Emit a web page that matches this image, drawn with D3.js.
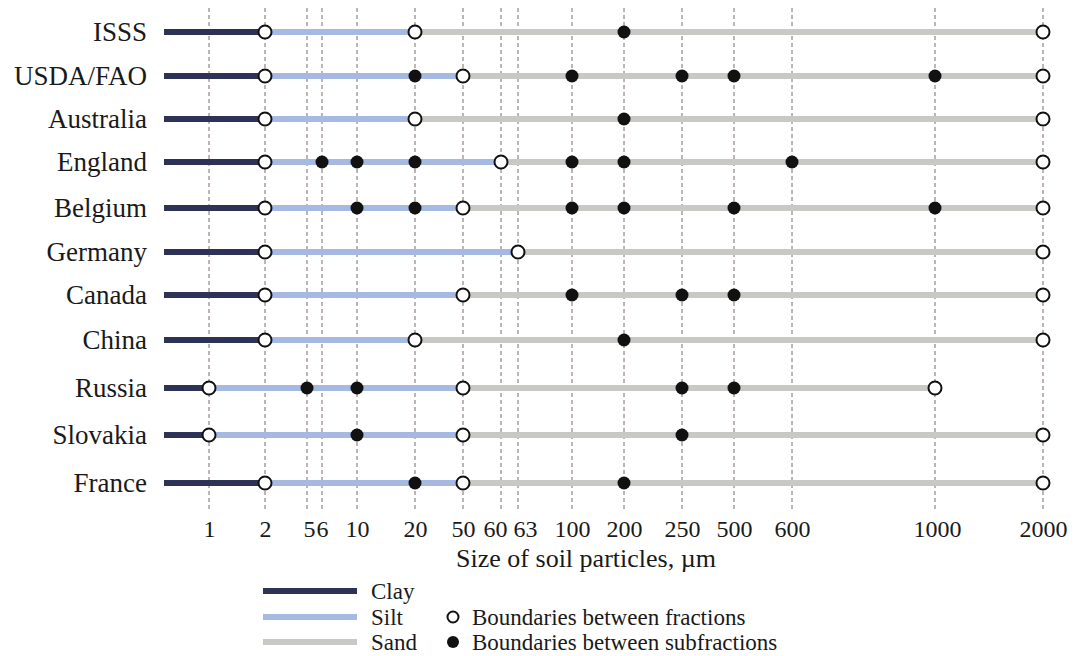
<!DOCTYPE html>
<html>
<head>
<meta charset="utf-8">
<script src="https://cdn.jsdelivr.net/npm/d3@7"></script>
<style>
  html, body { margin: 0; padding: 0; background: #fff; }
  svg { display: block; }
  text { font-family: "Liberation Serif", "DejaVu Serif", serif; fill: #1a1a1a; }
</style>
</head>
<body>
<svg id="chart" width="1079" height="656"></svg>
<script>
// ---- data ----
const systems = ["ISSS", "USDA/FAO", "Australia", "England", "Belgium", "Germany", "Canada", "China", "Russia", "Slovakia", "France"];
// upper limits of clay, silt, sand (µm)
const clayMax = [2, 2, 2, 2, 2, 2, 2, 2, 1, 1, 2];
const siltMax = [20, 50, 20, 60, 50, 63, 50, 20, 50, 50, 50];
const sandMax = [2000, 2000, 2000, 2000, 2000, 2000, 2000, 2000, 1000, 2000, 2000];
// boundaries between subfractions (µm)
const subBounds = [
  [200],
  [20, 100, 250, 500, 1000],
  [200],
  [6, 10, 20, 100, 200, 600],
  [10, 20, 100, 200, 500, 1000],
  [],
  [100, 250, 500],
  [200],
  [5, 10, 250, 500],
  [10, 250],
  [20, 200]
];
const tickValues = [1, 2, 5, 6, 10, 20, 50, 60, 63, 100, 200, 250, 500, 600, 1000, 2000];
const tickLabels = ["1", "2", "5", "6", "10", "20", "50", "60", "63", "100", "200", "250", "500", "600", "1000", "2000"];
const fractionNames = ["Clay", "Silt", "Sand"];
const markerNames = ["Boundaries between fractions", "Boundaries between subfractions"];
const axisTitle = "Size of soil particles, µm";

// ---- layout / style ----
const tickPixels = [209, 265, 307, 322, 357, 415, 463, 501, 518, 572, 624, 682, 734, 792, 935, 1043];
const rowPixels = [32, 76, 119, 162, 208, 252, 295, 340, 388, 435, 483];
const labelShift = { 5: 2, 60: -6, 63: 7, 1000: 2 };
const colors = { Clay: "#2d3256", Silt: "#a6b9e3", Sand: "#c8c8c4" };
const lineStart = 164;
const svg = d3.select("#chart");

const x = d3.scaleLinear().domain(tickValues).range(tickPixels);
const y = d3.scaleOrdinal().domain(systems).range(rowPixels);

// grid
const grid = svg.append("g");
grid.selectAll("line").data(tickValues).join("line")
  .attr("x1", d => x(d)).attr("x2", d => x(d))
  .attr("y1", 8).attr("y2", 512)
  .attr("stroke", "#7d6d6d").attr("stroke-width", 1)
  .attr("stroke-dasharray", "4,3");

// x axis labels
const xAxis = d3.axisBottom(x).tickValues(tickValues)
  .tickFormat((d, i) => tickLabels[i]).tickSize(0).tickPadding(0);
const ax = svg.append("g").attr("transform", "translate(0,537)").call(xAxis);
ax.select(".domain").remove();
ax.selectAll("text").attr("font-size", 24).attr("dy", 0).attr("y", 0)
  .attr("dx", d => labelShift[d] || 0)
  .style("font-family", '"Liberation Serif", serif').attr("fill", "#1a1a1a");

svg.append("text").attr("x", 586).attr("y", 567).attr("text-anchor", "middle")
  .attr("font-size", 26).text(axisTitle);

// row labels
svg.append("g").selectAll("text").data(systems).join("text")
  .attr("x", 147).attr("y", d => y(d)).attr("dy", "0.33em")
  .attr("text-anchor", "end").attr("font-size", 27).text(d => d);

// segments
const segs = [];
systems.forEach((s, i) => {
  segs.push({ s, f: "Clay", a: null, b: clayMax[i] });
  segs.push({ s, f: "Silt", a: clayMax[i], b: siltMax[i] });
  segs.push({ s, f: "Sand", a: siltMax[i], b: sandMax[i] });
});
svg.append("g").selectAll("line").data(segs).join("line")
  .attr("x1", d => d.a === null ? lineStart : x(d.a))
  .attr("x2", d => x(d.b))
  .attr("y1", d => y(d.s)).attr("y2", d => y(d.s))
  .attr("stroke", d => colors[d.f]).attr("stroke-width", 6);

// subfraction markers
const subs = [];
systems.forEach((s, i) => subBounds[i].forEach(v => subs.push({ s, v })));
svg.append("g").selectAll("circle").data(subs).join("circle")
  .attr("cx", d => x(d.v)).attr("cy", d => y(d.s)).attr("r", 6.5)
  .attr("fill", "#111");

// fraction markers
const fr = [];
systems.forEach((s, i) => [clayMax[i], siltMax[i], sandMax[i]].forEach(v => fr.push({ s, v })));
svg.append("g").selectAll("circle").data(fr).join("circle")
  .attr("cx", d => x(d.v)).attr("cy", d => y(d.s)).attr("r", 6.5)
  .attr("fill", "#fff").attr("stroke", "#111").attr("stroke-width", 2);

// legend
const lg = svg.append("g");
const lgY = [591, 617, 642];
fractionNames.forEach((f, i) => {
  lg.append("line").attr("x1", 263).attr("x2", 357).attr("y1", lgY[i]).attr("y2", lgY[i])
    .attr("stroke", colors[f]).attr("stroke-width", 6);
  lg.append("text").attr("x", 371).attr("y", lgY[i]).attr("dy", "0.33em")
    .attr("font-size", 23).text(f);
});
markerNames.forEach((m, i) => {
  const yy = lgY[i + 1];
  lg.append("circle").attr("cx", 453).attr("cy", yy).attr("r", i === 0 ? 5.5 : 6)
    .attr("fill", i === 0 ? "#fff" : "#111").attr("stroke", "#111").attr("stroke-width", i === 0 ? 2 : 0);
  lg.append("text").attr("x", 472).attr("y", yy).attr("dy", "0.33em")
    .attr("font-size", 23).attr("textLength", null).text(m);
});
</script>
</body>
</html>
